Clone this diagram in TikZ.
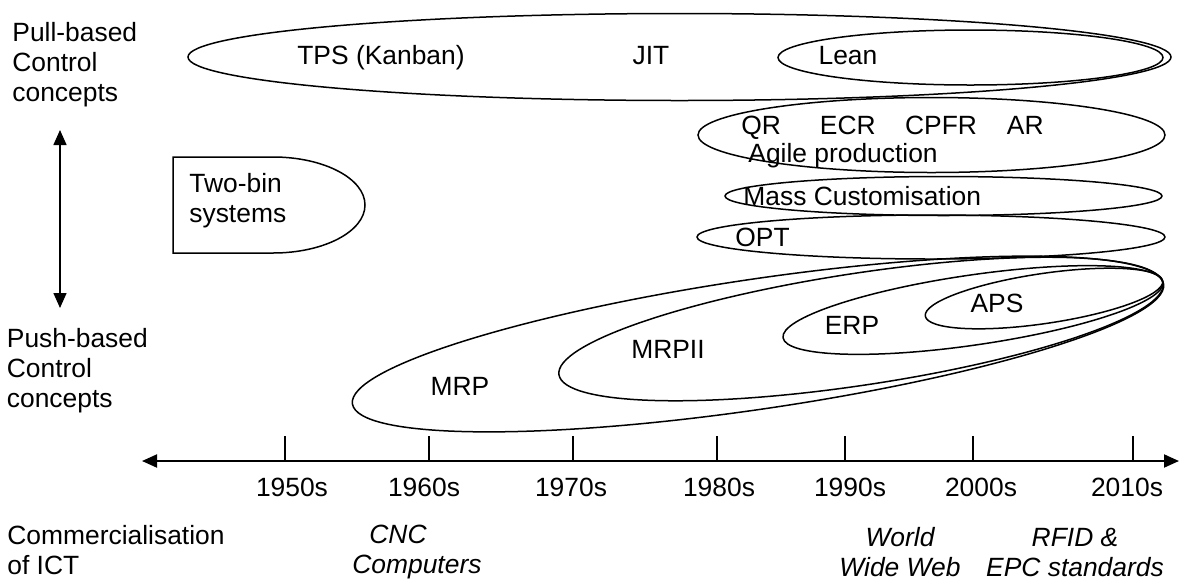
\documentclass[tikz,border=0pt]{standalone}
\usepackage{fontspec}
\setmainfont{Liberation Sans}
\usetikzlibrary{arrows.meta}

\begin{document}
\begin{tikzpicture}[x=0.5pt,y=-0.5pt,
        font=\fontsize{13.2}{15}\selectfont,
        >={Triangle[length=7.5pt,width=6.5pt]},
        txt/.style={inner sep=0pt,anchor=base},
        block/.style={inner sep=0pt,anchor=north west,align=left},
        note/.style={inner sep=0pt,anchor=north,align=center,font=\fontsize{13.2}{15}\selectfont\itshape},
        ring/.style={line width=0.75pt},
        tickmark/.style={line width=0.75pt}]
        \useasboundingbox (0,0) rectangle (1180,580);

        \node[block] (pull) at (12,21.5) {Pull-based\\Control\\concepts};
        \node[block] (push) at (6.5,328) {Push-based\\Control\\concepts};
        \node[block] (ict) at (7,525) {Commercialisation\\of ICT};
        \coordinate (pulltip) at (60,130);
        \coordinate (pushtip) at (60,308);
        \draw[<->,line width=0.75pt] (pulltip) -- (pushtip);

        \draw[ring] (273,157) -- (173,157) -- (173,253) -- (273,253)
                arc[start angle=90,end angle=-90,x radius=92,y radius=48];
        \node[block] (twobin) at (189,172.5) {Two-bin\\systems};

        \draw[ring] (679.5,57) ellipse [x radius=491.5,y radius=43.5];
        \draw[ring] (970.5,57.5) ellipse [x radius=192.5,y radius=27.5];
        \node[txt] (tps) at (381,64) {TPS (Kanban)};
        \node[txt] (jit) at (651,64) {JIT};
        \node[txt] (lean) at (848,64) {Lean};

        \draw[ring] (931.5,135) ellipse [x radius=233.5,y radius=37.5];
        \node[txt,anchor=base west] (qr) at (741,134.5) {QR\hspace{19.5pt}ECR\hspace{14.7pt}CPFR\hspace{15pt}AR};
        \node[txt,anchor=base west] (agile) at (748,162) {Agile production};
        \draw[ring] (943.5,196) ellipse [x radius=218.5,y radius=19.5];
        \node[txt,anchor=base west] (mass) at (743,205.5) {Mass Customisation};
        \draw[ring] (931,237) ellipse [x radius=234,y radius=22];
        \node[txt,anchor=base west] (opt) at (735,246.5) {OPT};

        \draw[ring,rotate around={8.4:(758,344)}] (758,344) ellipse [x radius=410,y radius=65];
        \draw[ring,rotate around={8.6:(861,329)}] (861,329) ellipse [x radius=305.5,y radius=56];
        \draw[ring,rotate around={8.3:(973,310)}] (973,310) ellipse [x radius=192,y radius=35];
        \draw[ring,rotate around={8.4:(1044,298.5)}] (1044,298.5) ellipse [x radius=120,y radius=25];
        \node[txt] (mrp) at (460,395.5) {MRP};
        \node[txt] (mrpii) at (668,358) {MRPII};
        \node[txt] (erp) at (852,334.5) {ERP};
        \node[txt] (aps) at (997,312) {APS};

        \coordinate (axleft) at (142,461);
        \coordinate (axright) at (1179,461);
        \draw[<->,line width=1pt] (axleft) -- (axright);
        \foreach \t in {285,429,573,717,845,973,1133}
                \draw[tickmark] (\t,436) -- (\t,461);
        \foreach \d/\x in {1950s/292,1960s/424,1970s/571,1980s/719,1990s/850,2000s/981,2010s/1127}
                \node[txt] (y\d) at (\x,496) {\d};

        \node[note,anchor=north west,align=left] (cnc) at (352,525) {\hspace*{8.5pt}CNC\\Computers};
        \node[note] (www) at (900,527) {World\\Wide Web};
        \node[note] (rfid) at (1075,528) {RFID \&\\EPC standards};
\end{tikzpicture}
\end{document}
